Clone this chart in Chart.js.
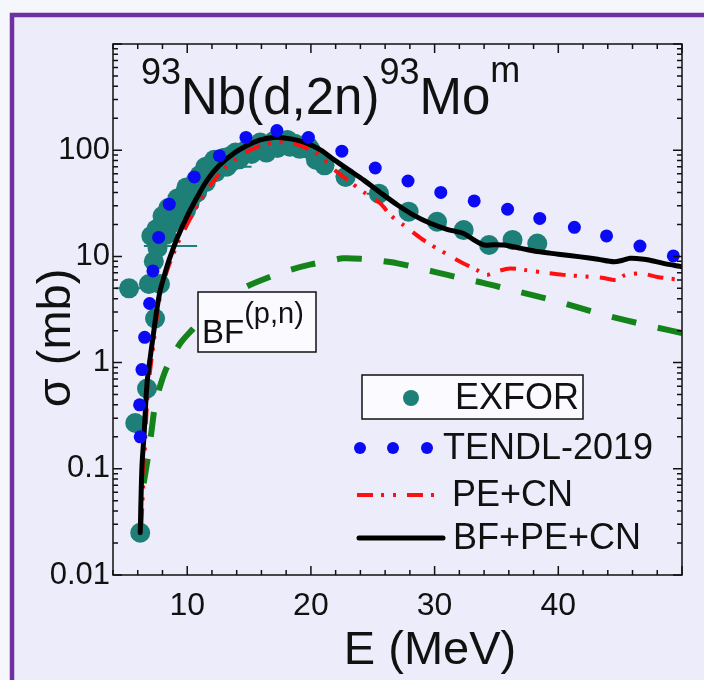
<!DOCTYPE html>
<html>
<head>
<meta charset="utf-8">
<script src="https://cdn.jsdelivr.net/npm/chart.js@4/dist/chart.umd.min.js"></script>
<style>
  html, body { margin: 0; padding: 0; background: #f6f6fd; }
  #wrap { width: 704px; height: 680px; }
</style>
</head>
<body>
<div id="wrap"><canvas id="xsChart" width="704" height="680"></canvas></div>
<script>
// energies in MeV, cross sections in mb
const exforE = [5.3, 5.8, 6.2, 6.75, 7.4, 6.9, 7.8, 7.3, 7.1, 7.6, 8.0, 8.47, 8.3, 8.8, 9.2, 9.5, 9.93, 10.2, 10.7, 10.8,
  11.46, 11.5, 12.2, 12.3, 13.0, 13.2, 13.9, 14.2, 15.0, 15.2, 15.9, 16.4, 17.0, 17.3, 18.1, 18.3, 19.1, 19.5, 20.0,
  20.4, 21.1, 22.8, 25.5, 27.9, 30.2, 32.35, 34.4, 36.3, 38.3,
  7.5, 8.0, 8.6, 9.0, 9.7, 9.9, 10.4, 11.0, 11.8, 12.7, 13.5, 13.6, 14.6, 15.5, 16.2, 16.8, 17.7, 18.7, 19.8];
const exforS = [5.0, 0.27, 0.025, 0.57, 2.6, 5.5, 5.5, 9, 15.6, 12, 18, 28.5, 16, 22, 35, 28, 44.6, 32, 52, 40,
  69.5, 50, 81.5, 62, 85, 70, 95, 82, 108, 92, 118, 95, 122, 105, 125, 108, 103, 112, 100,
  81.5, 72, 56, 39, 26.4, 21.2, 17.7, 12.8, 14.3, 13.2,
  18, 24, 20, 30, 38, 27, 45, 58, 72, 78, 88, 78, 98, 104, 112, 115, 118, 115, 108];

// horizontal error bars on a few EXFOR points
const errLo = [4.2, 6.5, 14.0, 22.0, 24.5, 27.1];
const errHi = [6.2, 10.8, 15.2, 23.2, 26.3, 28.6];
const errS = [5.0, 12.5, 70, 57, 39, 27.3];

const tendlE = [6.2, 6.15, 6.34, 6.56, 6.96, 7.23, 7.69, 8.55, 10.57, 12.6, 14.75, 17.25, 19.8, 22.5, 25.2, 27.85,
  30.5, 33.2, 35.9, 38.5, 41.3, 43.9, 46.6, 49.3];
const tendlS = [0.2, 0.4, 0.86, 1.73, 3.6, 7.3, 15.1, 31, 56, 88.7, 132, 153, 132, 98, 68, 51.3,
  40, 33.3, 27.8, 22.8, 18.8, 15.6, 12.5, 10.1];

const pecnE = [6.3, 6.5, 6.8, 7.3, 7.8, 8.4, 9.2, 10, 11, 12, 13, 14, 15, 16, 17, 18, 19, 20, 21, 21.6, 23, 24.3,
  25.6, 26.5, 27.5, 29, 30.4, 32, 33.4, 34.2, 35, 36.1, 37.5, 39, 40.4, 42, 43.5, 44.7, 45.3, 45.8, 46.8, 48, 50];
const pecnS = [0.03, 0.1, 0.5, 1.6, 4.2, 7.5, 13, 20, 33, 49, 67, 84, 99, 111, 118, 118, 112, 100, 84, 70, 52, 40,
  31.6, 24, 19.7, 14.5, 11.5, 9, 7.45, 6.7, 7.2, 7.7, 7.4, 7.0, 6.7, 6.5, 6.3, 6.0, 6.6, 6.8, 6.9, 6.4, 6.0];

const totalE = [6.2, 6.34, 6.5, 6.75, 7.0, 7.28, 7.55, 7.82, 8.1, 8.4, 8.7, 9.2, 9.98, 10.8, 11.6, 12.6, 13.75, 14.8,
  15.9, 16.8, 17.5, 18.5, 19.7, 20.8, 21.7, 23.0, 24.3, 25.6, 27.0, 28.3, 29.65, 31.0, 32.3, 33.3, 34.0, 34.8, 35.6,
  37.0, 38.3, 40.0, 41.8, 43.2, 44.5, 45.2, 45.8, 46.5, 47.2, 48.5, 50.0];
const totalS = [0.025, 0.105, 0.2, 0.64, 1.1, 1.9, 3.2, 4.8, 6.3, 8.3, 10.5, 15, 23.7, 36, 52, 72, 93, 110,
  125, 131, 132, 127, 116, 100, 84, 66, 52, 40, 30.5, 24.5, 20.5, 18, 16.5, 14, 12.8, 12.9, 12.8,
  11.9, 11.1, 10.5, 9.9, 9.4, 8.9, 9.2, 9.6, 9.5, 9.3, 8.6, 8.0];

const bfE = [6.48, 6.75, 7.1, 7.42, 7.9, 8.37, 9.44, 10.5, 11.6, 13.2, 14.8, 16.5, 18.3, 20, 21.8, 22.6, 24, 25.5,
  27, 29.9, 32, 34, 36, 38, 40, 41.8, 43.5, 45.5, 47.5, 50];
const bfS = [0.073, 0.113, 0.22, 0.41, 0.65, 0.91, 1.52, 2.1, 2.9, 4.0, 5.2, 6.3, 7.45, 8.4, 9.25, 9.6, 9.5, 9.1,
  8.6, 7.2, 6.3, 5.6, 4.9, 4.3, 3.75, 3.25, 2.85, 2.5, 2.2, 1.9];

const xTickLabels = [10, 20, 30, 40];
const yTickValues = [0.01, 0.1, 1, 10, 100];
const yTickLabels = ['0.01', '0.1', '1', '10', '100'];

const FONT = "'Liberation Sans', Arial, sans-serif";
const TEAL = '#1d7f77';
const BLUE = '#0a0af5';
const RED = '#ff1010';
const GREEN = '#14841a';
const PE_DASH = [16, 8, 3, 9, 3, 11];

const pts = (xs, ys) => xs.map((x, i) => ({ x: x, y: ys[i] }));

function errorSegments() {
  const out = [];
  errLo.forEach((lo, i) => {
    out.push({ x: lo, y: errS[i] }, { x: errHi[i], y: errS[i] }, { x: errHi[i], y: null });
  });
  return out;
}

function richText(ctx, parts, x) {
  parts.forEach(p => {
    ctx.font = p.size + 'px ' + FONT;
    ctx.fillText(p.t, x, p.y);
    x += ctx.measureText(p.t).width;
  });
}

const framePlugin = {
  id: 'frame',
  beforeDraw(chart) {
    const ctx = chart.ctx;
    ctx.save();
    ctx.fillStyle = '#f6f6fd';
    ctx.fillRect(0, 0, chart.width, chart.height);
    ctx.fillStyle = '#ececfa';
    ctx.fillRect(12, 15, chart.width - 12, chart.height - 15);
    ctx.strokeStyle = '#7030a0';
    ctx.lineWidth = 4.5;
    ctx.beginPath();
    ctx.moveTo(12, chart.height);
    ctx.lineTo(12, 15);
    ctx.lineTo(chart.width, 15);
    ctx.stroke();
    ctx.restore();
  },
  afterDraw(chart) {
    const ctx = chart.ctx;
    const a = chart.chartArea;
    const xs = chart.scales.x, ys = chart.scales.y;
    ctx.save();
    ctx.strokeStyle = '#111';
    ctx.lineWidth = 1.5;
    ctx.strokeRect(a.left, a.top, a.right - a.left, a.bottom - a.top);

    // inward ticks on all four sides
    ctx.beginPath();
    xs.ticks.forEach(t => {
      const px = xs.getPixelForValue(t.value);
      const len = t.value % 10 === 0 ? 9 : 5;
      ctx.moveTo(px, a.bottom); ctx.lineTo(px, a.bottom - len);
      ctx.moveTo(px, a.top); ctx.lineTo(px, a.top + len);
    });
    ys.ticks.forEach(t => {
      const py = ys.getPixelForValue(t.value);
      const l = Math.log10(t.value);
      const len = Math.abs(l - Math.round(l)) < 1e-6 ? 9 : 5;
      ctx.moveTo(a.left, py); ctx.lineTo(a.left + len, py);
      ctx.moveTo(a.right, py); ctx.lineTo(a.right - len, py);
    });
    ctx.stroke();

    ctx.fillStyle = '#111';
    ctx.textBaseline = 'alphabetic';
    ctx.textAlign = 'left';

    // reaction title
    richText(ctx, [
      { t: '93', size: 36, y: 84 },
      { t: 'Nb(d,2n)', size: 51, y: 114 },
      { t: '93', size: 36, y: 84 },
      { t: 'Mo', size: 51, y: 114 },
      { t: 'm', size: 36, y: 82 }
    ], 141);

    // BF(p,n) box
    ctx.fillStyle = '#fbfbff';
    ctx.fillRect(198, 292, 118, 60);
    ctx.strokeRect(198, 292, 118, 60);
    ctx.fillStyle = '#111';
    richText(ctx, [
      { t: 'BF', size: 33, y: 343 },
      { t: '(p,n)', size: 29, y: 323 }
    ], 202);

    // legend
    ctx.fillStyle = '#fbfbff';
    ctx.fillRect(362, 375, 221, 44);
    ctx.strokeRect(362, 375, 221, 44);
    ctx.fillStyle = TEAL;
    ctx.beginPath(); ctx.arc(411, 398, 8, 0, Math.PI * 2); ctx.fill();
    ctx.fillStyle = BLUE;
    [360, 393, 427].forEach(cx => { ctx.beginPath(); ctx.arc(cx, 448, 6, 0, Math.PI * 2); ctx.fill(); });

    ctx.lineCap = 'butt';
    ctx.strokeStyle = RED;
    ctx.lineWidth = 4;
    ctx.setLineDash(PE_DASH);
    ctx.beginPath(); ctx.moveTo(357, 495); ctx.lineTo(437, 495); ctx.stroke();
    ctx.setLineDash([]);
    ctx.strokeStyle = '#000';
    ctx.lineWidth = 5;
    ctx.lineCap = 'round';
    ctx.beginPath(); ctx.moveTo(359, 538); ctx.lineTo(443, 538); ctx.stroke();

    ctx.fillStyle = '#111';
    ctx.font = '36px ' + FONT;
    ctx.textBaseline = 'middle';
    ctx.fillText('EXFOR', 455, 399);
    ctx.fillText('TENDL-2019', 443, 449);
    ctx.fillText('PE+CN', 452, 496);
    ctx.fillText('BF+PE+CN', 453, 539);

    // axis titles
    ctx.textAlign = 'center';
    ctx.font = '47px ' + FONT;
    ctx.fillText('E (MeV)', 430, 651);
    ctx.translate(57, 338);
    ctx.rotate(-Math.PI / 2);
    ctx.fillText('σ (mb)', 0, 0);
    ctx.restore();
  }
};

const ctx = document.getElementById('xsChart').getContext('2d');
new Chart(ctx, {
  type: 'scatter',
  data: {
    datasets: [
      { label: 'TENDL-2019', data: pts(tendlE, tendlS), pointRadius: 6.5, pointBackgroundColor: BLUE,
        pointBorderWidth: 0, showLine: false },
      { label: 'BF+PE+CN', data: pts(totalE, totalS), showLine: true, borderColor: '#000', borderWidth: 5,
        pointRadius: 0, tension: 0.3, borderCapStyle: 'round', borderJoinStyle: 'round' },
      { label: 'PE+CN', data: pts(pecnE, pecnS), showLine: true, borderColor: RED, borderWidth: 4,
        borderDash: PE_DASH, pointRadius: 0, tension: 0.3 },
      { label: 'BF', data: pts(bfE, bfS), showLine: true, borderColor: GREEN, borderWidth: 6,
        borderDash: [25, 22], pointRadius: 0, tension: 0.3 },
      { label: 'EXFOR err', data: errorSegments(), showLine: true, spanGaps: false, borderColor: TEAL,
        borderWidth: 2, pointRadius: 0 },
      { label: 'EXFOR', data: pts(exforE, exforS), pointRadius: 10, pointBackgroundColor: TEAL,
        pointBorderWidth: 0, showLine: false }
    ]
  },
  options: {
    responsive: false,
    animation: false,
    layout: { padding: { top: 44, right: 22, left: 0, bottom: 0 } },
    plugins: { legend: { display: false }, tooltip: { enabled: false } },
    scales: {
      x: {
        type: 'linear', min: 4, max: 50,
        grid: { display: false, drawTicks: false },
        border: { display: false },
        afterFit: s => { s.height = 105; },
        ticks: {
          stepSize: 2, autoSkip: false, maxRotation: 0, padding: 12, color: '#111',
          font: { family: FONT, size: 32 },
          callback: v => xTickLabels.includes(v) ? String(v) : ''
        }
      },
      y: {
        type: 'logarithmic', min: 0.01, max: 1000,
        grid: { display: false, drawTicks: false },
        border: { display: false },
        afterFit: s => { s.width = 113; },
        afterBuildTicks: s => {
          const t = [];
          for (let e = -2; e <= 2; e++) for (let k = 1; k <= 9; k++) t.push({ value: k * Math.pow(10, e) });
          t.push({ value: 1000 });
          s.ticks = t;
        },
        ticks: {
          autoSkip: false, padding: 3, color: '#111',
          font: { family: FONT, size: 31 },
          callback: v => {
            const i = yTickValues.findIndex(t => Math.abs(t - v) / t < 1e-6);
            return i >= 0 ? yTickLabels[i] : '';
          }
        }
      }
    }
  },
  plugins: [framePlugin]
});
</script>
</body>
</html>
